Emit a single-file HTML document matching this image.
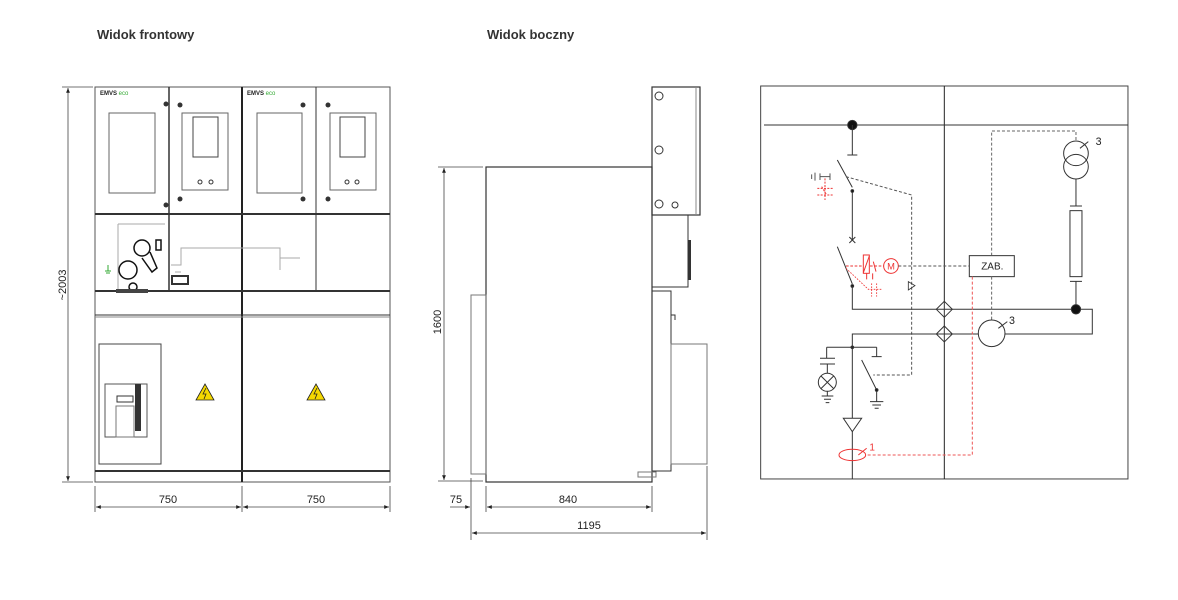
<!DOCTYPE html>
<html><head><meta charset="utf-8"><style>
html,body{margin:0;padding:0;background:#fff;width:1178px;height:600px;overflow:hidden}
svg{display:block}
text{font-family:"Liberation Sans",sans-serif}
</style></head><body>
<svg width="1178" height="600" viewBox="0 0 1178 600" xmlns="http://www.w3.org/2000/svg">
<defs>
<marker id="ar" viewBox="0 0 10 10" refX="10" refY="5" markerWidth="6" markerHeight="6" orient="auto-start-reverse"><path d="M0,1 L10,5 L0,9 z" fill="#222"/></marker>
</defs>
<text x="97" y="39" font-size="13" font-weight="bold" fill="#333">Widok frontowy</text>
<text x="487" y="39" font-size="13" font-weight="bold" fill="#333">Widok boczny</text>

<!-- FRONT VIEW -->
<g fill="none" stroke="#333" stroke-width="1">
<rect x="95" y="87" width="295" height="395" stroke="#555"/>
<line x1="242" y1="87" x2="242" y2="482" stroke="#222" stroke-width="2"/>
<line x1="169" y1="87" x2="169" y2="213" stroke-width="1.5"/>
<line x1="316" y1="87" x2="316" y2="213"/>
<line x1="95" y1="214" x2="390" y2="214" stroke-width="2"/>
<line x1="169" y1="214" x2="169" y2="292" stroke-width="1.5"/>
<line x1="316" y1="214" x2="316" y2="292"/>
<line x1="95" y1="291" x2="390" y2="291" stroke-width="2"/>
<line x1="95" y1="315" x2="390" y2="315"/>
<line x1="95" y1="317" x2="390" y2="317" stroke="#888"/>
<line x1="95" y1="471" x2="390" y2="471" stroke-width="2"/>
<!-- windows -->
<rect x="109" y="113" width="46" height="80" stroke="#666"/>
<rect x="257" y="113" width="45" height="80" stroke="#666"/>
<rect x="182" y="113" width="46" height="77" stroke="#666"/>
<rect x="193" y="117" width="25" height="40" stroke="#444"/>
<rect x="330" y="113" width="46" height="77" stroke="#666"/>
<rect x="340" y="117" width="25" height="40" stroke="#444"/>
<circle cx="200" cy="182" r="2"/><circle cx="211" cy="182" r="2"/>
<circle cx="347" cy="182" r="2"/><circle cx="357" cy="182" r="2"/>
<!-- middle section lines -->
<path d="M118,224 V292 M118,224 H165" stroke="#aaa"/>
<path d="M171,265 H181 V248 H280 V270 M181,272 H175" stroke="#aaa"/>
<path d="M280,258 H300" stroke="#aaa"/>
<!-- breaker lower door -->
<rect x="99" y="344" width="62" height="120" stroke="#444"/>
<rect x="105" y="384" width="42" height="53" stroke="#555"/>
<rect x="135" y="384" width="6" height="47" fill="#333" stroke="none"/>
<rect x="117" y="396" width="16" height="6"/>
<rect x="116" y="406" width="18" height="31" stroke="#777"/>
</g>
<g fill="#333">
<circle cx="166" cy="104" r="2.5"/><circle cx="166" cy="205" r="2.5"/>
<circle cx="180" cy="105" r="2.5"/><circle cx="180" cy="199" r="2.5"/>
<circle cx="303" cy="105" r="2.5"/><circle cx="303" cy="199" r="2.5"/>
<circle cx="328" cy="105" r="2.5"/><circle cx="328" cy="199" r="2.5"/>
</g>
<!-- lower-left mechanism -->
<g fill="none" stroke="#111" stroke-width="1.5">
<circle cx="142" cy="248" r="8"/><circle cx="128" cy="270" r="9"/><circle cx="133" cy="287" r="4"/>
<path d="M150,252 L157,268 L152,272 L142,258"/>
<rect x="156" y="240" width="5" height="10"/>
</g>
<rect x="171" y="275" width="18" height="10" fill="#333"/>
<rect x="173" y="277" width="14" height="6" fill="#fff"/>
<rect x="116" y="289" width="32" height="4" fill="#444"/>
<text x="100" y="95" font-size="6" font-weight="bold" fill="#222">EMVS <tspan fill="#3a3" font-weight="normal">eco</tspan></text>
<text x="247" y="95" font-size="6" font-weight="bold" fill="#222">EMVS <tspan fill="#3a3" font-weight="normal">eco</tspan></text>
<path d="M108,265 v6 M105,271 h6 M106,273 h4" stroke="#3a3" fill="none"/>
<!-- warning triangles -->
<g>
<path d="M205,384 L214,400 L196,400 Z" fill="#f5d800" stroke="#222" stroke-width="0.8"/>
<path d="M316,384 L325,400 L307,400 Z" fill="#f5d800" stroke="#222" stroke-width="0.8"/>
<path d="M206,388 L203,394 L206,394 L204,399" stroke="#222" fill="none" stroke-width="0.8"/>
<path d="M317,388 L314,394 L317,394 L315,399" stroke="#222" fill="none" stroke-width="0.8"/>
</g>
<!-- front dims -->
<g stroke="#444" stroke-width="0.8" fill="none">
<line x1="68" y1="88" x2="68" y2="481" marker-start="url(#ar)" marker-end="url(#ar)"/>
<line x1="62" y1="87" x2="93" y2="87"/><line x1="62" y1="482" x2="93" y2="482"/>
<line x1="95" y1="486" x2="95" y2="512"/><line x1="242" y1="486" x2="242" y2="512"/><line x1="390" y1="486" x2="390" y2="512"/>
<line x1="96" y1="507" x2="241" y2="507" marker-start="url(#ar)" marker-end="url(#ar)"/>
<line x1="243" y1="507" x2="389" y2="507" marker-start="url(#ar)" marker-end="url(#ar)"/>
</g>
<text transform="translate(66,285) rotate(-90)" font-size="11" text-anchor="middle" fill="#222">~2003</text>
<text x="168" y="503" font-size="11" text-anchor="middle" fill="#222">750</text>
<text x="316" y="503" font-size="11" text-anchor="middle" fill="#222">750</text>

<!-- SIDE VIEW -->
<g fill="none" stroke="#333" stroke-width="1">
<rect x="486" y="167" width="166" height="315" stroke-width="1.2"/>
<rect x="471" y="295" width="15" height="179" stroke="#777"/>
<rect x="652" y="87" width="48" height="128" stroke-width="1.2"/>
<line x1="696" y1="87" x2="696" y2="215" stroke="#888"/>
<circle cx="659" cy="96" r="4"/><circle cx="659" cy="150" r="4"/><circle cx="659" cy="204" r="4"/><circle cx="675" cy="205" r="3"/>
<rect x="652" y="215" width="36" height="72"/>
<rect x="652" y="291" width="19" height="180"/>
<rect x="671" y="344" width="36" height="120" stroke="#777"/>
<rect x="638" y="472" width="18" height="5" stroke="#777"/>
<path d="M671,315 h4 v5" />
</g>
<rect x="688" y="240" width="3" height="40" fill="#333"/>
<g stroke="#444" stroke-width="0.8" fill="none">
<line x1="444" y1="168" x2="444" y2="480" marker-start="url(#ar)" marker-end="url(#ar)"/>
<line x1="438" y1="167" x2="483" y2="167"/><line x1="438" y1="481" x2="483" y2="481"/>
<line x1="471" y1="478" x2="471" y2="540"/><line x1="486" y1="486" x2="486" y2="512"/><line x1="652" y1="486" x2="652" y2="512"/><line x1="707" y1="466" x2="707" y2="540"/>
<line x1="450" y1="507" x2="470" y2="507" marker-end="url(#ar)"/>
<line x1="487" y1="507" x2="651" y2="507" marker-start="url(#ar)" marker-end="url(#ar)"/>
<line x1="472" y1="533" x2="706" y2="533" marker-start="url(#ar)" marker-end="url(#ar)"/>
</g>
<text transform="translate(441,322) rotate(-90)" font-size="11" text-anchor="middle" fill="#222">1600</text>
<text x="456" y="503" font-size="11" text-anchor="middle" fill="#222">75</text>
<text x="568" y="503" font-size="11" text-anchor="middle" fill="#222">840</text>
<text x="589" y="529" font-size="11" text-anchor="middle" fill="#222">1195</text>

<!-- SCHEMATIC (zoom coords /3) -->
<g transform="translate(760,80) scale(0.3333)" fill="none" stroke="#333" stroke-width="3">
<rect x="2" y="18" width="1102" height="1179" stroke="#444"/>
<line x1="553" y1="18" x2="553" y2="1197" stroke="#222"/>
<line x1="12" y1="135" x2="1104" y2="135"/>
<circle cx="277" cy="135" r="14" fill="#111"/>
<path d="M277,135 V225 M262,225 H292"/>
<path d="M232,240 L277,322 M277,333 V480 M268,471 L286,489 M286,471 L268,489"/>
<circle cx="277" cy="333" r="4" fill="#111"/>
<path d="M258,290 L455,345 V885 H340" stroke-dasharray="9,6" stroke="#555"/>
<!-- red earth sym -->
<g stroke="#e33">
<path d="M180,280 V300 M180,290 H210 M210,280 V300 M155,283 V297 M165,278 V302" stroke="#555"/>
<path d="M195,295 V360 M172,325 H220 M172,345 H220 M185,320 L200,345" stroke-dasharray="6,4"/>
</g>
<!-- breaker -->
<path d="M232,500 L277,612"/>
<circle cx="277" cy="618" r="4" fill="#111"/>
<path d="M277,618 V688 H997 V762 H277 V1197"/>
<path d="M553,664 L577,688 L553,712 L529,688 Z M553,738 L577,762 L553,786 L529,762 Z" fill="#fff"/>
<path d="M553,664 V712 M553,738 V786 M529,688 H577 M529,762 H577"/>
<g stroke="#e33">
<path d="M258,558 H310 M330,558 H372" stroke-dasharray="8,5"/>
<rect x="310" y="525" width="18" height="55"/>
<path d="M310,578 L328,528 M340,545 L348,575 M320,580 V598 M338,580 V598"/>
<circle cx="393" cy="558" r="22"/>
<path d="M258,565 L325,628 H365 M335,610 V650 M350,610 V650" stroke-dasharray="5,4" stroke-width="2.5"/>
</g>
<text x="393" y="568" font-size="28" text-anchor="middle" fill="#e33" stroke="none">M</text>
<path d="M415,558 H628" stroke-dasharray="9,6" stroke="#555"/>
<path d="M445,605 L465,617 L445,630 Z" stroke-width="2.5"/>
<rect x="628" y="527" width="135" height="63" fill="#fff"/>
<text x="697" y="568" font-size="30" text-anchor="middle" fill="#222" stroke="none">ZAB.</text>
<path d="M695,527 V153 H948 V183 M695,590 V720" stroke-dasharray="9,6" stroke="#666"/>
<circle cx="948" cy="220" r="37"/><circle cx="948" cy="260" r="37"/>
<path d="M960,205 L985,185"/>
<text x="1007" y="195" font-size="32" fill="#222" stroke="none">3</text>
<path d="M948,297 V378 M930,378 H966 M930,604 H966 M948,604 V688"/>
<rect x="930" y="392" width="36" height="198"/>
<circle cx="948" cy="688" r="14" fill="#111"/>
<circle cx="695" cy="760" r="40" fill="#fff"/>
<path d="M715,745 L742,725"/>
<text x="747" y="732" font-size="32" fill="#222" stroke="none">3</text>
<path d="M637,590 V1125 H318" stroke="#e55" stroke-dasharray="9,6"/>
<ellipse cx="277" cy="1125" rx="40" ry="17" stroke="#e33"/>
<path d="M295,1125 L320,1105" stroke="#e33"/>
<text x="328" y="1112" font-size="30" fill="#e33" stroke="none">1</text>
<path d="M250,1015 H305 L277,1055 Z" fill="#fff"/>
<circle cx="277" cy="802" r="4" fill="#111"/>
<path d="M200,802 H350 M200,802 V835 M180,835 H225 M180,852 H225 M202,852 V880 M202,934 V948 M185,948 H220 M192,958 H213 M197,968 H208"/>
<circle cx="202" cy="907" r="27"/>
<path d="M183,888 L221,926 M221,888 L183,926"/>
<path d="M350,802 V830 M335,830 H365 M305,840 L350,930 M350,930 V965 M330,965 H370 M337,975 H363 M344,985 H356"/>
<circle cx="350" cy="930" r="4" fill="#111"/>
</g>
</svg>
</body></html>
